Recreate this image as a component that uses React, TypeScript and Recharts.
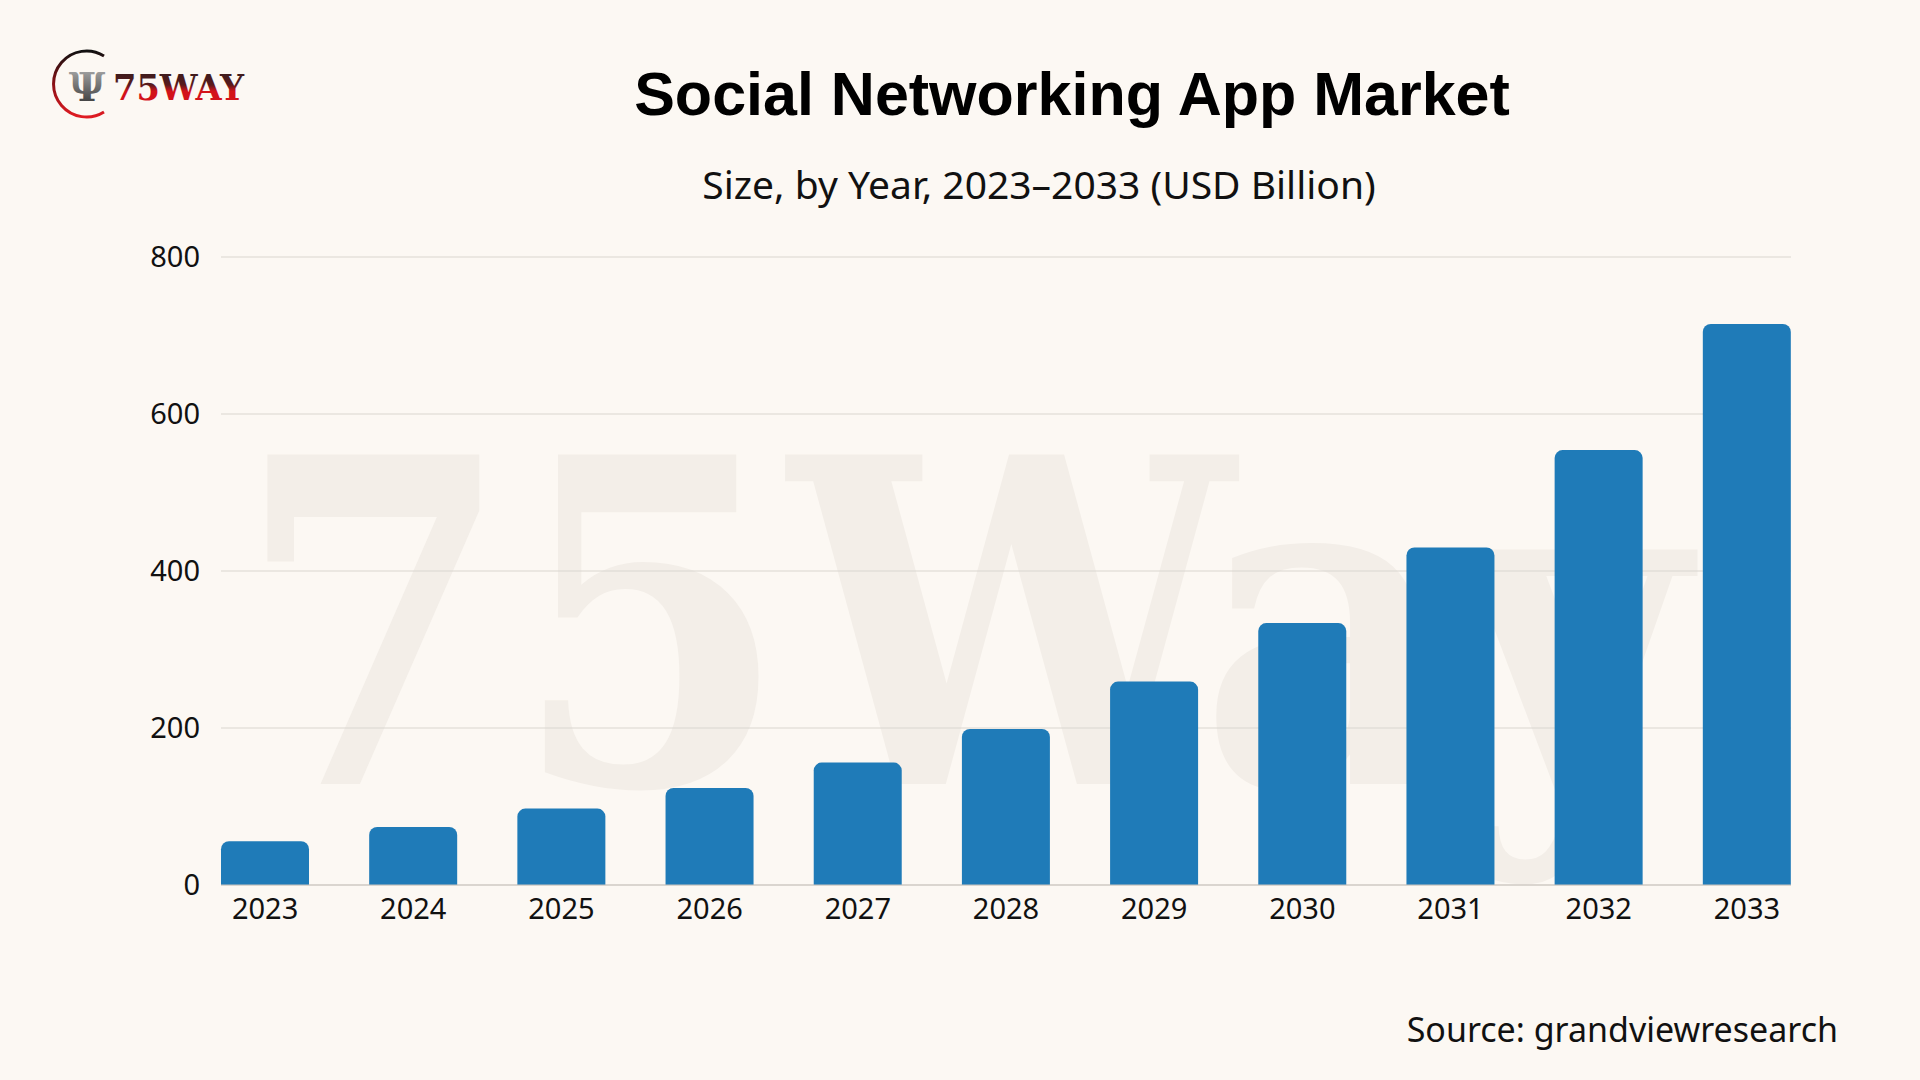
import { Bar, BarChart, CartesianGrid, XAxis, YAxis } from 'recharts'

// Social networking app market size, USD billion
const years = ['2023', '2024', '2025', '2026', '2027', '2028', '2029', '2030', '2031', '2032', '2033']
const marketSize = [55.8, 74.0, 97.4, 123.6, 156.0, 198.7, 259.1, 333.7, 430.0, 554.0, 714.7]
const yTicks = [0, 200, 400, 600, 800]

const BG = '#fcf8f3'
const BAR = '#1f7bb8'
const GRID = '#dad5cf'

const data = years.map((year, i) => ({ year, value: marketSize[i] }))

const tickStyle = { fill: '#111111', fontSize: 29, fontFamily: 'Noto Sans' }

function Backdrop() {
  return (
    <svg width={1920} height={1080} style={{ position: 'absolute', left: 0, top: 0 }}>
      <rect width={1920} height={1080} fill={BG} />
      <text
        x={236}
        y={784}
        fontFamily="DejaVu Serif"
        fontWeight={700}
        fontSize={452}
        textLength={1452}
        lengthAdjust="spacingAndGlyphs"
        fill="#f3eee8"
      >
        75Way
      </text>
    </svg>
  )
}

function Overlay() {
  return (
    <svg
      width={1920}
      height={1080}
      style={{ position: 'absolute', left: 0, top: 0, pointerEvents: 'none' }}
    >
      <defs>
        <linearGradient id="logoText" x1="0" y1="0" x2="0" y2="1">
          <stop offset="0%" stopColor="#2b1d1d" />
          <stop offset="45%" stopColor="#5a1a1c" />
          <stop offset="60%" stopColor="#d3121b" />
          <stop offset="100%" stopColor="#d3121b" />
        </linearGradient>
        <linearGradient id="logoRing" x1="0" y1="0" x2="0" y2="1">
          <stop offset="0%" stopColor="#111111" />
          <stop offset="50%" stopColor="#8a1015" />
          <stop offset="100%" stopColor="#e01b22" />
        </linearGradient>
        <linearGradient id="logoMark" x1="0" y1="0" x2="0" y2="1">
          <stop offset="0%" stopColor="#b8b8b8" />
          <stop offset="100%" stopColor="#2a2a2a" />
        </linearGradient>
      </defs>

      {/* logo */}
      <path
        d="M 104 56 A 33 33 0 1 0 104 112"
        fill="none"
        stroke="url(#logoRing)"
        strokeWidth={3}
      />
      <text
        x={87}
        y={101}
        textAnchor="middle"
        fontFamily="DejaVu Serif"
        fontWeight={700}
        fontSize={40}
        fill="url(#logoMark)"
      >
        Ψ
      </text>
      <text
        x={113}
        y={100}
        fontFamily="DejaVu Serif"
        fontWeight={700}
        fontSize={36}
        textLength={131}
        lengthAdjust="spacingAndGlyphs"
        fill="url(#logoText)"
      >
        75WAY
      </text>

      <text
        x={1072}
        y={115}
        textAnchor="middle"
        fontFamily="Liberation Sans"
        fontWeight={700}
        fontSize={61}
        fill="#000000"
      >
        Social Networking App Market
      </text>
      <text
        x={1039}
        y={199}
        textAnchor="middle"
        fontFamily="Noto Sans"
        fontSize={39}
        fill="#111111"
      >
        Size, by Year, 2023–2033 (USD Billion)
      </text>
      <text
        x={1838}
        y={1042}
        textAnchor="end"
        fontFamily="Noto Sans"
        fontSize={34}
        fill="#111111"
      >
        Source: grandviewresearch
      </text>
    </svg>
  )
}

export default function App() {
  return (
    <div style={{ position: 'relative', width: 1920, height: 1080, overflow: 'hidden', background: BG }}>
      <style>{'body{margin:0}'}</style>
      <Backdrop />
      <div style={{ position: 'absolute', left: 0, top: 0 }}>
        <BarChart
          width={1920}
          height={1080}
          data={data}
          margin={{ top: 257, right: 129, bottom: 165, left: 141 }}
        >
          <CartesianGrid vertical={false} stroke={GRID} strokeWidth={1.2} />
          <XAxis
            dataKey="year"
            height={30}
            padding={{ left: -30, right: -30 }}
            axisLine={{ stroke: '#c9c4be', strokeWidth: 1.2 }}
            tickLine={false}
            tickSize={0}
            tickMargin={13}
            tick={tickStyle}
            interval={0}
          />
          <YAxis
            width={80}
            domain={[0, 800]}
            ticks={yTicks}
            axisLine={false}
            tickLine={false}
            tickSize={0}
            tickMargin={21}
            tick={tickStyle}
          />
          <Bar
            dataKey="value"
            fill={BAR}
            barSize={88}
            radius={[8, 8, 0, 0]}
            isAnimationActive={false}
          />
        </BarChart>
      </div>
      <Overlay />
    </div>
  )
}
